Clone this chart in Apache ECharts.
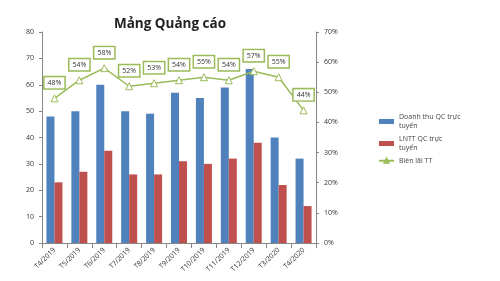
<!DOCTYPE html>
<html><head><meta charset="utf-8">
<script src="https://cdn.jsdelivr.net/npm/echarts@6/dist/echarts.min.js"></script>
<style>html,body{margin:0;padding:0;background:#fff}#c{width:500px;height:281px}</style>
</head><body><div id="c"></div>
<script>
var categories = ['T4/2019','T5/2019','T6/2019','T7/2019','T8/2019','T9/2019','T10/2019','T11/2019','T12/2019','T3/2020','T4/2020'];
var revenue = [48, 50, 60, 50, 49, 57, 55, 59, 66, 40, 32];
var profit = [23, 27, 35, 26, 26, 31, 30, 32, 38, 22, 14];
var margin = [48, 54, 58, 52, 53, 54, 55, 54, 57, 55, 44];
var leftTicks = [0, 10, 20, 30, 40, 50, 60, 70, 80];
var rightTicks = ['0%','10%','20%','30%','40%','50%','60%','70%'];

var chart = echarts.init(document.getElementById('c'));
var axisLine = {show: true, lineStyle: {color: '#868686', width: 1}};
chart.setOption({
  animation: false,
  textStyle: {fontFamily: 'Open Sans'},
  title: {text: 'Mảng Quảng cáo', left: 165, top: 12, textAlign: 'center',
    textStyle: {fontSize: 13.5, fontWeight: 'bold', color: '#222', fontFamily: 'Open Sans'}},
  legend: {
    orient: 'vertical', left: 373, top: 107, itemGap: 3, itemWidth: 15, itemHeight: 5,
    textStyle: {fontSize: 7, color: '#444', lineHeight: 9.5},
    data: [
      {name: 'Doanh thu QC trực\ntuyến', icon: 'rect'},
      {name: 'LNTT QC trực\ntuyến', icon: 'rect'},
      {name: 'Biên lãi TT'}
    ]
  },
  grid: {left: 42, right: 184, top: 32, bottom: 38},
  xAxis: {
    type: 'category', data: categories,
    axisLine: axisLine, axisTick: {show: true, alignWithLabel: false, lineStyle: {color: '#868686'}},
    axisLabel: {rotate: 45, fontSize: 7, color: '#333', interval: 0, margin: 6}
  },
  yAxis: [
    {type: 'value', min: leftTicks[0], max: leftTicks[leftTicks.length-1], interval: 10,
     axisLine: axisLine, axisTick: {show: true, length: 3, lineStyle: {color: '#868686'}},
     splitLine: {show: false}, axisLabel: {fontSize: 7, color: '#333', margin: 8}},
    {type: 'value', min: 0, max: 70, interval: 10, position: 'right',
     axisLine: axisLine, axisTick: {show: true, length: 3, lineStyle: {color: '#868686'}},
     splitLine: {show: false},
     axisLabel: {fontSize: 7, color: '#333', margin: 8, formatter: function(v){ return rightTicks[v/10]; }}}
  ],
  series: [
    {name: 'Doanh thu QC trực\ntuyến', type: 'bar', data: revenue, barWidth: 8, barGap: '0%',
     itemStyle: {color: '#4F81BD'}},
    {name: 'LNTT QC trực\ntuyến', type: 'bar', data: profit, barWidth: 8,
     itemStyle: {color: '#C0504D'}},
    {name: 'Biên lãi TT', type: 'line', yAxisIndex: 1, data: margin,
     symbol: 'triangle', symbolSize: 7, showAllSymbol: true,
     lineStyle: {color: '#9BBB59', width: 1.5},
     itemStyle: {color: '#fff', borderColor: '#9BBB59', borderWidth: 1},
     label: {show: true, position: 'top', distance: 6, formatter: '{c}%', fontSize: 7, color: '#333',
       backgroundColor: '#fff', borderColor: '#9BBB59', borderWidth: 1.5, padding: [2, 3]}}
  ]
});
</script></body></html>
